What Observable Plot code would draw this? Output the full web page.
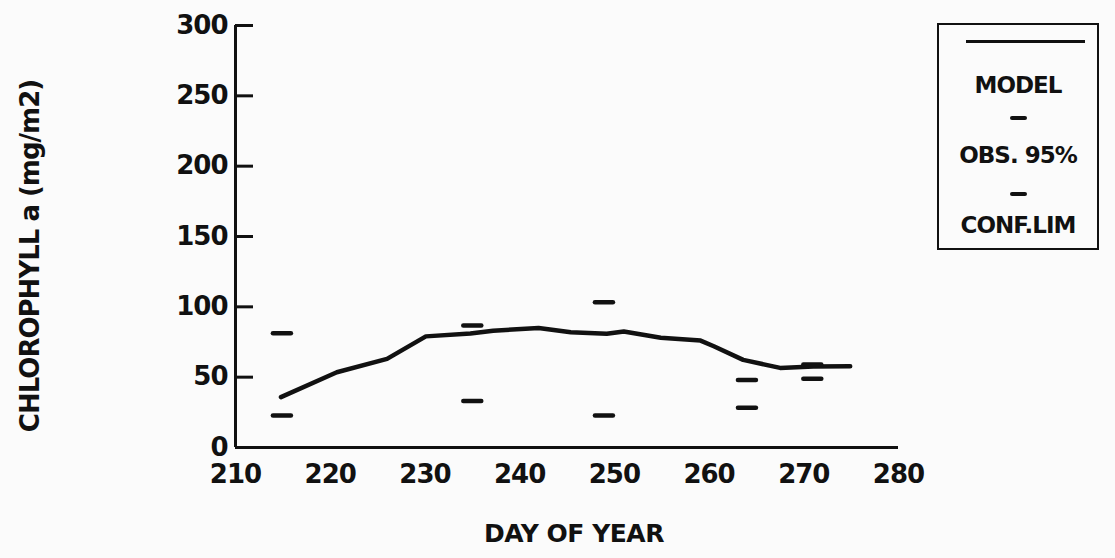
<!DOCTYPE html>
<html>
<head>
<meta charset="utf-8">
<script src="https://cdn.jsdelivr.net/npm/d3@7"></script>
<script src="https://cdn.jsdelivr.net/npm/@observablehq/plot@0.6"></script>
<style>
  html, body { margin: 0; padding: 0; background: #fbfbfb; }
  #wrap { position: relative; width: 1115px; height: 558px; font-family: "DejaVu Sans", sans-serif; color: #111; }
  .lbl { position: absolute; font-weight: bold; font-size: 22px; white-space: nowrap; }
  #legend { position: absolute; left: 937px; top: 23px; width: 162px; height: 227px; border: 2px solid #111; box-sizing: border-box; }
</style>
</head>
<body>
<div id="wrap"></div>
<script>
// Model curve (day of year, chlorophyll a mg/m2)
const modelDay = [214.8, 220.7, 226.0, 230.1, 234.8, 237.2, 242.0, 245.4, 249.2, 251.0, 254.9, 259.1, 260.5, 263.6, 267.5, 271.0, 274.9];
const modelChl = [35.8, 53.5, 63.0, 79.0, 81.0, 83.0, 85.0, 82.0, 80.8, 82.5, 78.0, 76.0, 72.0, 62.3, 56.6, 57.6, 57.8];
// Observed 95% confidence limits
const obsDay = [214.9, 235.0, 248.9, 264.0, 270.9];
const obsUpper = [81.3, 86.7, 103.3, 48.0, 59.0];
const obsLower = [22.7, 33.0, 22.7, 28.2, 48.8];
const xTicks = [210, 220, 230, 240, 250, 260, 270, 280];
const yTicks = [0, 50, 100, 150, 200, 250, 300];
const xTitle = "DAY OF YEAR";
const yTitle = "CHLOROPHYLL a (mg/m2)";
const legendLabels = ["MODEL", "OBS. 95%", "CONF.LIM"];

const model = modelDay.map((d, i) => ({day: d, chl: modelChl[i]}));
const obs = [];
obsDay.forEach((d, i) => {
  obs.push({day: d, chl: obsUpper[i]});
  obs.push({day: d, chl: obsLower[i]});
});
const halfDash = 0.95;

const ink = "#111";
const chart = Plot.plot({
  width: 1115,
  height: 558,
  marginLeft: 235,
  marginRight: 217,
  marginTop: 25,
  marginBottom: 111,
  style: {background: "transparent", fontFamily: "'DejaVu Sans', sans-serif", color: ink},
  x: {domain: [210, 280]},
  y: {domain: [0, 300]},
  marks: [
    Plot.axisX({ticks: xTicks, tickSize: 0, tickPadding: 17, fontSize: 26, fontWeight: "bold", label: null, tickFormat: d => String(d)}),
    Plot.axisY({ticks: yTicks, tickSize: 0, tickPadding: 8, fontSize: 26, fontWeight: "bold", label: null, tickFormat: d => String(d)}),
    Plot.axisY({ticks: yTicks.filter(d => d > 0), tickSize: -18, strokeWidth: 3, text: null, label: null}),
    Plot.ruleX([210], {stroke: ink, strokeWidth: 3}),
    Plot.ruleY([0], {stroke: ink, strokeWidth: 3}),
    Plot.line(model, {x: "day", y: "chl", stroke: ink, strokeWidth: 4.5, curve: "linear", strokeLinejoin: "round", strokeLinecap: "round"}),
    Plot.link(obs, {x1: d => d.day - halfDash, x2: d => d.day + halfDash, y1: "chl", y2: "chl", stroke: ink, strokeWidth: 4.5, strokeLinecap: "round"})
  ]
});
chart.querySelectorAll("text").forEach(t => t.setAttribute("letter-spacing", "-1"));

const wrap = document.getElementById("wrap");
wrap.appendChild(chart);

const xt = document.createElement("div");
xt.className = "lbl";
xt.textContent = xTitle;
xt.style.left = "574px"; xt.style.top = "533px";
xt.style.fontSize = "25px";
xt.style.letterSpacing = "-0.5px";
xt.style.transform = "translate(-50%, -50%)";
wrap.appendChild(xt);

const yt = document.createElement("div");
yt.className = "lbl";
yt.textContent = yTitle;
yt.style.left = "30px"; yt.style.top = "256px";
yt.style.fontSize = "26px";
yt.style.letterSpacing = "-1px";
yt.style.transform = "translate(-50%, -50%) rotate(-90deg)";
wrap.appendChild(yt);

const lg = document.createElement("div");
lg.id = "legend";
const ls = "font-size:23px;letter-spacing:-1px;transform:translate(-50%,-50%)";
lg.innerHTML = `
  <div style="position:absolute;left:27px;top:15px;width:119px;height:0;border-top:3px solid ${ink}"></div>
  <div class="lbl" style="left:50%;top:60px;${ls}">${legendLabels[0]}</div>
  <div style="position:absolute;left:71px;top:91px;width:17px;height:0;border-top:4px solid ${ink};border-radius:2px"></div>
  <div class="lbl" style="left:50%;top:130px;${ls}">${legendLabels[1]}</div>
  <div style="position:absolute;left:71px;top:167px;width:17px;height:0;border-top:4px solid ${ink};border-radius:2px"></div>
  <div class="lbl" style="left:50%;top:200px;${ls}">${legendLabels[2]}</div>
`;
wrap.appendChild(lg);
</script>
</body>
</html>
